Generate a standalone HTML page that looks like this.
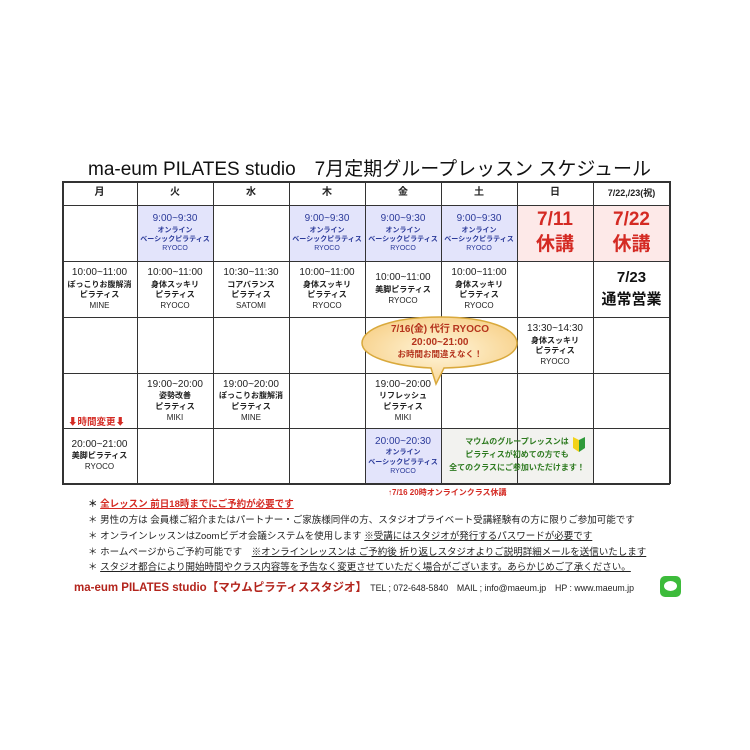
<!DOCTYPE html>
<html><head><meta charset="utf-8"><style>
*{margin:0;padding:0;box-sizing:border-box}
body{width:750px;height:750px;background:#fff;position:relative;font-family:"Liberation Sans","Noto Sans CJK JP",sans-serif;color:#222;overflow:hidden}
.a{position:absolute}
.c{position:absolute;display:flex;flex-direction:column;align-items:center;justify-content:center;text-align:center;line-height:1.35;font-size:8px;font-weight:bold}
.t{font-size:10px;font-weight:normal}
.n{font-weight:normal;font-size:8px}
.s{font-size:7px}
.vl{position:absolute;top:181px;height:303px;width:1px;background:#333}
.hl{position:absolute;left:62px;width:608px;height:1px;background:#333}
.note{position:absolute;left:88px;font-size:9.5px;color:#222}
.u{text-decoration:underline}
</style></head><body>
<div class="a" style="left:88px;top:154px;font-size:19px;white-space:nowrap;color:#111">ma-eum PILATES studio　7月定期グループレッスン スケジュール</div>

<div class="a" style="left:137px;top:205px;width:76px;height:56px;background:#e3e4fb"></div>
<div class="a" style="left:289px;top:205px;width:152px;height:56px;background:#e3e4fb"></div>
<div class="a" style="left:441px;top:205px;width:76px;height:56px;background:#e3e4fb"></div>
<div class="a" style="left:517px;top:205px;width:153px;height:56px;background:#fde9e8"></div>
<div class="a" style="left:365px;top:428px;width:76px;height:56px;background:#e3e4fb"></div>
<div class="a" style="left:441px;top:428px;width:152px;height:56px;background:#f2f2ef"></div>

<div class="hl" style="top:181px;height:2px"></div>
<div class="hl" style="top:205px"></div>
<div class="hl" style="top:261px"></div>
<div class="hl" style="top:317px"></div>
<div class="hl" style="top:373px"></div>
<div class="hl" style="top:428px"></div>
<div class="hl" style="top:483px;height:2px"></div>
<div class="vl" style="left:62px;width:2px"></div>
<div class="vl" style="left:137px"></div>
<div class="vl" style="left:213px"></div>
<div class="vl" style="left:289px"></div>
<div class="vl" style="left:365px"></div>
<div class="vl" style="left:441px"></div>
<div class="vl" style="left:517px"></div>
<div class="vl" style="left:593px"></div>
<div class="vl" style="left:669px;width:2px"></div>

<div class="c" style="left:62px;top:181px;width:75px;height:24px;font-size:10px">月</div>
<div class="c" style="left:137px;top:181px;width:76px;height:24px;font-size:10px">火</div>
<div class="c" style="left:213px;top:181px;width:76px;height:24px;font-size:10px">水</div>
<div class="c" style="left:289px;top:181px;width:76px;height:24px;font-size:10px">木</div>
<div class="c" style="left:365px;top:181px;width:76px;height:24px;font-size:10px">金</div>
<div class="c" style="left:441px;top:181px;width:76px;height:24px;font-size:10px">土</div>
<div class="c" style="left:517px;top:181px;width:76px;height:24px;font-size:10px">日</div>
<div class="c" style="left:593px;top:181px;width:77px;height:24px;font-size:9px">7/22,/23(祝)</div>

<div class="c" style="left:137px;top:205px;width:76px;height:56px;color:#2b3a9a"><span class="t">9:00~9:30</span><span class="s">オンライン</span><span class="s">ベーシックピラティス</span><span class="n s">RYOCO</span></div>
<div class="c" style="left:289px;top:205px;width:76px;height:56px;color:#2b3a9a"><span class="t">9:00~9:30</span><span class="s">オンライン</span><span class="s">ベーシックピラティス</span><span class="n s">RYOCO</span></div>
<div class="c" style="left:365px;top:205px;width:76px;height:56px;color:#2b3a9a"><span class="t">9:00~9:30</span><span class="s">オンライン</span><span class="s">ベーシックピラティス</span><span class="n s">RYOCO</span></div>
<div class="c" style="left:441px;top:205px;width:76px;height:56px;color:#2b3a9a"><span class="t">9:00~9:30</span><span class="s">オンライン</span><span class="s">ベーシックピラティス</span><span class="n s">RYOCO</span></div>
<div class="c" style="left:517px;top:205px;width:76px;height:56px;color:#d42a23;font-size:19px;line-height:1.3">7/11<br>休講</div>
<div class="c" style="left:593px;top:205px;width:77px;height:56px;color:#d42a23;font-size:19px;line-height:1.3">7/22<br>休講</div>

<div class="c" style="left:62px;top:261px;width:75px;height:56px"><span class="t">10:00~11:00</span>ぽっこりお腹解消<br>ピラティス<span class="n">MINE</span></div>
<div class="c" style="left:137px;top:261px;width:76px;height:56px"><span class="t">10:00~11:00</span>身体スッキリ<br>ピラティス<span class="n">RYOCO</span></div>
<div class="c" style="left:213px;top:261px;width:76px;height:56px"><span class="t">10:30~11:30</span>コアバランス<br>ピラティス<span class="n">SATOMI</span></div>
<div class="c" style="left:289px;top:261px;width:76px;height:56px"><span class="t">10:00~11:00</span>身体スッキリ<br>ピラティス<span class="n">RYOCO</span></div>
<div class="c" style="left:365px;top:261px;width:76px;height:56px"><span class="t">10:00~11:00</span>美脚ピラティス<span class="n">RYOCO</span></div>
<div class="c" style="left:441px;top:261px;width:76px;height:56px"><span class="t">10:00~11:00</span>身体スッキリ<br>ピラティス<span class="n">RYOCO</span></div>
<div class="c" style="left:593px;top:261px;width:77px;height:56px;font-size:15px;color:#111;line-height:1.5">7/23<br>通常営業</div>

<div class="c" style="left:517px;top:317px;width:76px;height:56px"><span class="t">13:30~14:30</span>身体スッキリ<br>ピラティス<span class="n">RYOCO</span></div>

<div class="c" style="left:137px;top:373px;width:76px;height:55px"><span class="t">19:00~20:00</span>姿勢改善<br>ピラティス<span class="n">MIKI</span></div>
<div class="c" style="left:213px;top:373px;width:76px;height:55px"><span class="t">19:00~20:00</span>ぽっこりお腹解消<br>ピラティス<span class="n">MINE</span></div>
<div class="c" style="left:365px;top:373px;width:76px;height:55px"><span class="t">19:00~20:00</span>リフレッシュ<br>ピラティス<span class="n">MIKI</span></div>
<div class="a" style="left:68px;top:414px;font-size:9.5px;font-weight:bold;color:#d42a23">⬇時間変更⬇</div>

<div class="c" style="left:62px;top:428px;width:75px;height:55px"><span class="t">20:00~21:00</span>美脚ピラティス<span class="n">RYOCO</span></div>
<div class="c" style="left:365px;top:428px;width:76px;height:55px;color:#2b3a9a"><span class="t">20:00~20:30</span><span class="s">オンライン</span><span class="s">ベーシックピラティス</span><span class="n s">RYOCO</span></div>
<div class="c" style="left:441px;top:428px;width:152px;height:55px;color:#2d7a1f;line-height:1.6">マウムのグループレッスンは<br>ピラティスが初めての方でも<br>全てのクラスにご参加いただけます！</div>
<svg class="a" style="left:572px;top:437px" width="14" height="16" viewBox="0 0 14 16"><path d="M7 3 L1 0 L1 11 L7 15Z" fill="#f2d21a"/><path d="M7 3 L13 0 L13 11 L7 15Z" fill="#2f9a3a"/></svg>

<svg class="a" style="left:358px;top:314px" width="164" height="76" viewBox="0 0 164 76">
<defs><radialGradient id="g" cx="0.5" cy="0.5" r="0.6"><stop offset="0" stop-color="#fff6dc"/><stop offset="1" stop-color="#f7cf86"/></radialGradient></defs>
<path d="M82 3 C130 3 159 15 159 29 C159 43 130 53 86 54 L78 70 L73 54 C33 52 4 42 4 29 C4 15 34 3 82 3Z" fill="url(#g)" stroke="#d9a93c" stroke-width="1.5"/>
</svg>
<div class="c" style="left:362px;top:318px;width:156px;height:48px;color:#b5341d;font-size:10px;line-height:1.3">7/16(金) 代行 RYOCO<br>20:00~21:00<br><span style="font-size:8.5px">お時間お間違えなく！</span></div>

<div class="a" style="left:388px;top:487px;font-size:8px;font-weight:bold;color:#d42a23">↑7/16 20時オンラインクラス休講</div>

<div class="note" style="top:496px"><b>＊ </b><span class="u" style="color:#d42a23;font-weight:bold">全レッスン 前日18時までにご予約が必要です</span></div>
<div class="note" style="top:512px">＊ 男性の方は 会員様ご紹介またはパートナー・ご家族様同伴の方、スタジオプライベート受講経験有の方に限りご参加可能です</div>
<div class="note" style="top:528px">＊ オンラインレッスンはZoomビデオ会議システムを使用します <span class="u">※受講にはスタジオが発行するパスワードが必要です</span></div>
<div class="note" style="top:544px">＊ ホームページからご予約可能です　<span class="u">※オンラインレッスンは ご予約後 折り返しスタジオよりご説明詳細メールを送信いたします</span></div>
<div class="note" style="top:559px">＊ <span class="u">スタジオ都合により開始時間やクラス内容等を予告なく変更させていただく場合がございます。あらかじめご了承ください。</span></div>

<div class="a" style="left:74px;top:579px;font-size:11.5px;color:#b3241c;font-weight:bold;white-space:nowrap">ma-eum PILATES studio【マウムピラティススタジオ】 <span style="color:#222;font-weight:normal;font-size:8.8px">TEL ; 072-648-5840　MAIL ; info@maeum.jp　HP : www.maeum.jp</span></div>
<div class="a" style="left:660px;top:576px;width:21px;height:21px;border-radius:5px;background:#3dbb3b"></div>
<div class="a" style="left:664px;top:581px;width:13px;height:10px;border-radius:50%;background:#fff"></div>
</body></html>
